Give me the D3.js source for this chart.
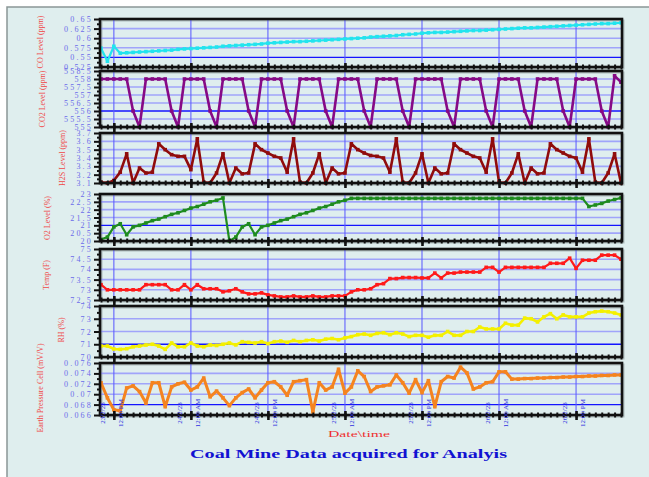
<!DOCTYPE html>
<html>
<head>
<meta charset="utf-8">
<script src="https://cdn.jsdelivr.net/npm/d3@7"></script>
<style>
  html, body { margin: 0; padding: 0; background: #ffffff; }
  svg { display: block; }
</style>
</head>
<body>
<svg id="chart" width="649" height="477"></svg>
<script>
// Hourly readings from the mine sensors, starting 23 Feb 2023 10:00
const startTime = new Date(2023, 1, 23, 10, 0);

const coLevel = [
  0.574, 0.540, 0.579, 0.561, 0.562, 0.563, 0.564, 0.565, 0.566, 0.567,
  0.568, 0.569, 0.571, 0.572, 0.573, 0.574, 0.575, 0.576, 0.577, 0.579,
  0.580, 0.581, 0.582, 0.583, 0.584, 0.585, 0.587, 0.588, 0.589, 0.590,
  0.591, 0.591, 0.592, 0.593, 0.594, 0.595, 0.596, 0.597, 0.598, 0.599,
  0.600, 0.601, 0.603, 0.604, 0.605, 0.606, 0.607, 0.609, 0.610, 0.611,
  0.613, 0.614, 0.615, 0.615, 0.616, 0.617, 0.618, 0.619, 0.620, 0.620,
  0.621, 0.622, 0.623, 0.624, 0.625, 0.626, 0.627, 0.627, 0.628, 0.629,
  0.630, 0.631, 0.632, 0.633, 0.634, 0.635, 0.636, 0.637, 0.638, 0.638,
  0.639, 0.640
];

const co2Level = [
  558, 558, 558, 558, 558, 556, 555,
  558, 558, 558, 558, 556, 555,
  558, 558, 558, 558, 556, 555,
  558, 558, 558, 558, 556, 555,
  558, 558, 558, 558, 556, 555,
  558, 558, 558, 558, 556, 555,
  558, 558, 558, 558, 556, 555,
  558, 558, 558, 558, 556, 555,
  558, 558, 558, 558, 558, 556, 555,
  558, 558, 558, 558, 556, 555,
  558, 558, 558, 558, 556, 555,
  558, 558, 558, 558, 556, 555,
  558, 558, 558, 558, 556, 555,
  558.2, 557.8
];

const h2sLevel = [
  3.11, 3.10, 3.13, 3.23, 3.45, 3.10, 3.28, 3.22, 3.23, 3.57, 3.50, 3.44, 3.42, 3.42, 3.26, 3.63,
  3.11, 3.10, 3.22, 3.45, 3.10, 3.28, 3.21, 3.22, 3.57, 3.50, 3.46, 3.42, 3.40, 3.23, 3.63,
  3.11, 3.10, 3.22, 3.45, 3.10, 3.28, 3.21, 3.22, 3.57, 3.50, 3.46, 3.43, 3.42, 3.40, 3.23, 3.63,
  3.11, 3.10, 3.22, 3.45, 3.10, 3.28, 3.21, 3.22, 3.57, 3.50, 3.46, 3.42, 3.40, 3.23, 3.63,
  3.11, 3.10, 3.22, 3.45, 3.10, 3.28, 3.21, 3.22, 3.57, 3.50, 3.46, 3.42, 3.40, 3.23, 3.63,
  3.11, 3.10, 3.22, 3.45, 3.10
];

const o2Level = [
  20.1, 20.25, 20.9, 21.1, 20.4, 20.9, 21.0, 21.15, 21.3, 21.4,
  21.55, 21.7, 21.8, 21.95, 22.1, 22.2, 22.35, 22.5, 22.6, 22.75,
  20.0, 20.25, 20.9, 21.1, 20.4, 20.9, 21.0, 21.15, 21.3, 21.4,
  21.55, 21.7, 21.8, 21.95, 22.1, 22.2, 22.35, 22.5, 22.6, 22.72,
  22.72, 22.72, 22.72, 22.72, 22.72, 22.72, 22.72, 22.72, 22.72, 22.72,
  22.72, 22.72, 22.72, 22.72, 22.72, 22.72, 22.72, 22.72, 22.72, 22.72,
  22.72, 22.72, 22.72, 22.72, 22.72, 22.72, 22.72, 22.72, 22.72, 22.72,
  22.72, 22.72, 22.72, 22.72, 22.72, 22.72,
  22.2, 22.3, 22.4, 22.55, 22.65, 22.75
];

const tempLevel = [
  73.25, 73.0, 73.0, 73.0, 73.0, 73.0, 73.0, 73.25, 73.25, 73.25,
  73.25, 73.0, 73.0, 73.25, 73.0, 73.25, 73.05, 73.05, 73.05, 72.9,
  72.95, 73.05, 72.9, 72.8, 72.8, 72.85, 72.75, 72.7, 72.65, 72.65,
  72.7, 72.65, 72.65, 72.7, 72.65, 72.65, 72.7, 72.7, 72.7, 72.9,
  73.0, 73.0, 73.05, 73.25, 73.3, 73.55, 73.55, 73.6, 73.6, 73.6,
  73.58, 73.58, 73.82, 73.58, 73.82, 73.82, 73.87, 73.87, 73.87, 73.87,
  74.1, 74.1, 73.87, 74.1, 74.1, 74.1, 74.1, 74.1, 74.1, 74.1,
  74.3, 74.3, 74.3, 74.55, 74.05, 74.45, 74.45, 74.45, 74.7, 74.7,
  74.7, 74.5
];

const rhLevel = [
  70.86, 70.86, 70.63, 70.6, 70.65, 70.8, 70.86, 70.94, 71.0, 70.86,
  70.6, 71.1, 70.8, 70.8, 71.1, 70.86, 70.8, 70.94, 70.9, 71.0,
  71.1, 70.95, 71.2, 71.15, 71.1, 71.2, 71.05, 71.2, 71.25, 71.15,
  71.3, 71.2, 71.3, 71.35, 71.25, 71.4, 71.45, 71.35, 71.5, 71.6,
  71.75, 71.8, 71.7, 71.85, 71.9, 71.75, 71.9, 71.8, 71.6, 71.7,
  71.7, 71.55, 71.7, 71.7, 72.0, 71.7, 71.7, 72.0, 72.0, 72.35,
  72.2, 72.2, 72.2, 72.65, 72.5, 72.5, 73.05, 73.0, 72.75, 73.15,
  73.4, 73.0, 73.3, 73.15, 73.15, 73.15, 73.45, 73.55, 73.6, 73.55,
  73.45, 73.3
];

const earthPressure = [
  0.0722, 0.0693, 0.0670, 0.0668, 0.0712, 0.0716, 0.0705, 0.0683, 0.0722, 0.0722,
  0.0676, 0.0714, 0.0720, 0.0723, 0.0708, 0.0714, 0.0731, 0.0695, 0.0706, 0.0693,
  0.0678, 0.0693, 0.0703, 0.0710, 0.0693, 0.0708, 0.0722, 0.0724, 0.0714, 0.0698,
  0.0724, 0.0726, 0.0728, 0.0666, 0.0722, 0.0708, 0.0714, 0.0748, 0.0702, 0.0714,
  0.0745, 0.0734, 0.0705, 0.0714, 0.0716, 0.0718, 0.0737, 0.0722, 0.0702, 0.0728,
  0.0703, 0.0726, 0.0676, 0.0724, 0.0734, 0.0731, 0.0752, 0.0741, 0.0710, 0.0714,
  0.0722, 0.0724, 0.0743, 0.0743, 0.0729, 0.0729, 0.0730, 0.0730, 0.0731, 0.0731,
  0.0732, 0.0732, 0.0733, 0.0733, 0.0734, 0.0734, 0.0735, 0.0735, 0.0736, 0.0736,
  0.0737, 0.0737
];

// Tick values of each y axis, bottom to top
const coTicks = [0.525, 0.55, 0.575, 0.6, 0.625, 0.65];
const co2Ticks = [555, 555.5, 556, 556.5, 557, 557.5, 558, 558.5];
const h2sTicks = [3.1, 3.2, 3.3, 3.4, 3.5, 3.6, 3.7];
const o2Ticks = [20, 20.5, 21, 21.5, 22, 22.5, 23];
const tempTicks = [72.5, 73, 73.5, 74, 74.5, 75];
const rhTicks = [70, 71, 72, 73, 74];
const earthTicks = [0.066, 0.068, 0.07, 0.072, 0.074, 0.076];

const seriesTitles = ["CO Level (ppm)", "CO2 Level (ppm)", "H2S Level (ppm)", "O2 Level (%)",
                      "Temp (F)", "RH (%)", "Earth Pressure Cell (mV/V)"];
const chartTitle = "Coal Mine Data acquired for Analyis";
const axisTitle = "Date\\time";

// Layout of the stacked panels
const L = 100, R = 622;
const panels = [
  { values: coLevel,       ticks: coTicks,    ref: 0.55,  color: "#22e4ee", width: 2.2, top: 19,  bottom: 67,  tx: 40, ty: 42 },
  { values: co2Level,      ticks: co2Ticks,   ref: 556,   color: "#860a86", width: 2.6, top: 71,  bottom: 127, tx: 42, ty: 99 },
  { values: h2sLevel,      ticks: h2sTicks,   ref: null,  color: "#900c0c", width: 2.6, top: 133, bottom: 183, tx: 62, ty: 158 },
  { values: o2Level,       ticks: o2Ticks,    ref: 21,    color: "#1e8c1e", width: 2.2, top: 194, bottom: 241, tx: 47, ty: 218 },
  { values: tempLevel,     ticks: tempTicks,  ref: null,  color: "#ff1a1a", width: 2.2, top: 249, bottom: 300, tx: 46, ty: 275 },
  { values: rhLevel,       ticks: rhTicks,    ref: 71,    color: "#f4f000", width: 2.6, top: 306, bottom: 357, tx: 61, ty: 330 },
  { values: earthPressure, ticks: earthTicks, ref: 0.068, color: "#f5841f", width: 3.0, top: 363, bottom: 415, tx: 40, ty: 388 }
];

const serif = "'Liberation Serif', 'Times New Roman', serif";

const svg = d3.select("#chart");
svg.append("rect").attr("width", 649).attr("height", 477).attr("fill", "#ffffff");
svg.append("rect")
  .attr("x", 7).attr("y", 7).attr("width", 670).attr("height", 490)
  .attr("fill", "#dfeeee").attr("stroke", "#8a9696").attr("stroke-width", 1.5);

const times = coLevel.map((_, i) => d3.timeHour.offset(startTime, i));
const endTime = times[times.length - 1];
const x = d3.scaleTime().domain([startTime, endTime]).range([101, 621]);
const hourTicks = d3.timeHour.range(startTime, d3.timeHour.offset(endTime, 1));
const majorTicks = hourTicks.filter(t => t.getHours() % 12 === 0);

panels.forEach((p, idx) => {
  const lo = p.ticks[0], hi = p.ticks[p.ticks.length - 1];
  const y = d3.scaleLinear().domain([lo, hi]).range([p.bottom, p.top]);
  const g = svg.append("g");

  // soft shadow under the frame
  g.append("rect")
    .attr("x", L + 1.5).attr("y", p.top + 1.5)
    .attr("width", R - L).attr("height", p.bottom - p.top)
    .attr("fill", "none").attr("stroke", "#8f9c9c").attr("stroke-width", 2).attr("opacity", 0.6);

  // horizontal grid
  g.selectAll("line.hgrid").data(p.ticks.slice(1, -1)).join("line")
    .attr("class", "hgrid")
    .attr("x1", L).attr("x2", R)
    .attr("y1", d => y(d)).attr("y2", d => y(d))
    .attr("stroke", d => d === p.ref ? "#1414ff" : "#8c8cff")
    .attr("stroke-width", d => d === p.ref ? 1.3 : 1.6)
    .attr("opacity", d => d === p.ref ? 1 : 0.75);

  // vertical grid every 12 hours
  g.selectAll("line.vgrid").data(majorTicks).join("line")
    .attr("class", "vgrid")
    .attr("x1", d => x(d)).attr("x2", d => x(d))
    .attr("y1", p.top).attr("y2", p.bottom)
    .attr("stroke", "#5c5cff").attr("stroke-width", 1.3).attr("opacity", 0.8);

  const pts = p.values.map((v, i) => ({ t: times[i], v }));

  g.append("path")
    .datum(pts)
    .attr("fill", "none")
    .attr("stroke", p.color)
    .attr("stroke-width", p.width)
    .attr("stroke-linejoin", "round")
    .attr("stroke-linecap", "round")
    .attr("d", d3.line().x(d => x(d.t)).y(d => y(d.v)));

  g.selectAll("rect.mk").data(pts).join("rect")
    .attr("class", "mk")
    .attr("x", d => x(d.t) - 1.8).attr("y", d => y(d.v) - 1.8)
    .attr("width", 3.6).attr("height", 3.6)
    .attr("fill", p.color);

  // frame
  g.append("rect")
    .attr("x", L).attr("y", p.top)
    .attr("width", R - L).attr("height", p.bottom - p.top)
    .attr("fill", "none").attr("stroke", "#111111").attr("stroke-width", 2.6);

  // left axis with labels
  const yAxis = g.append("g")
    .attr("transform", `translate(${L},0)`)
    .call(d3.axisLeft(y).tickValues(p.ticks).tickSize(6).tickPadding(1).tickFormat(d => String(d)));
  yAxis.select(".domain").remove();
  yAxis.selectAll(".tick line").attr("stroke", "#111111").attr("stroke-width", 2);
  yAxis.selectAll(".tick text")
    .attr("fill", "#6c6cea")
    .style("font-family", serif)
    .style("font-size", "8px")
    .style("letter-spacing", "2.2px");

  // minor ticks halfway between labels
  const mids = d3.pairs(p.ticks).map(([a, b]) => (a + b) / 2);
  const yMinor = g.append("g")
    .attr("transform", `translate(${L},0)`)
    .call(d3.axisLeft(y).tickValues(mids).tickSize(3).tickFormat(""));
  yMinor.select(".domain").remove();
  yMinor.selectAll(".tick line").attr("stroke", "#111111").attr("stroke-width", 2);

  // hourly ticks on the bottom edge
  const xMinor = g.append("g")
    .attr("transform", `translate(0,${p.bottom - 2.5})`)
    .call(d3.axisBottom(x).tickValues(hourTicks).tickSize(5).tickFormat(""));
  xMinor.select(".domain").remove();
  xMinor.selectAll(".tick line").attr("stroke", "#111111").attr("stroke-width", 2);

  const xMajor = g.append("g")
    .attr("transform", `translate(0,${p.bottom - 4})`)
    .call(d3.axisBottom(x).tickValues(majorTicks).tickSize(9).tickFormat(""));
  xMajor.select(".domain").remove();
  xMajor.selectAll(".tick line").attr("stroke", "#111111").attr("stroke-width", 2.6);

  // series title
  svg.append("text")
    .attr("transform", `translate(${p.tx},${p.ty}) rotate(-90)`)
    .attr("text-anchor", "middle")
    .attr("dominant-baseline", "central")
    .attr("fill", "#f04646")
    .style("font-family", serif)
    .style("font-size", "8px")
    .text(seriesTitles[idx]);

  // date / time labels under the bottom panel
  if (idx === panels.length - 1) {
    const fmtDate = d3.timeFormat("%-d/%-m/%y");
    const fmtTime = d3.timeFormat("%I:%M %p");
    const lbl = svg.append("g")
      .style("font-family", serif)
      .style("font-size", "7px")
      .attr("fill", "#2e2ee0");
    majorTicks.forEach(t => {
      lbl.append("text")
        .attr("transform", `translate(${x(t) - 11},${p.bottom - 2}) rotate(-90)`)
        .attr("text-anchor", "middle").attr("dominant-baseline", "central")
        .text(fmtDate(t));
      lbl.append("text")
        .attr("transform", `translate(${x(t) + 7},${p.bottom - 2}) rotate(-90)`)
        .attr("text-anchor", "middle").attr("dominant-baseline", "central")
        .text(fmtTime(t));
    });
  }
});

svg.append("text")
  .attr("x", 328).attr("y", 437)
  .attr("textLength", 62).attr("lengthAdjust", "spacingAndGlyphs")
  .attr("fill", "#ee3030")
  .style("font-family", serif)
  .style("font-size", "9px")
  .text(axisTitle);

svg.append("text")
  .attr("x", 190).attr("y", 458)
  .attr("textLength", 317).attr("lengthAdjust", "spacingAndGlyphs")
  .attr("fill", "#1212d2")
  .style("font-family", serif)
  .style("font-size", "12px")
  .style("font-weight", "bold")
  .text(chartTitle);
</script>
</body>
</html>
